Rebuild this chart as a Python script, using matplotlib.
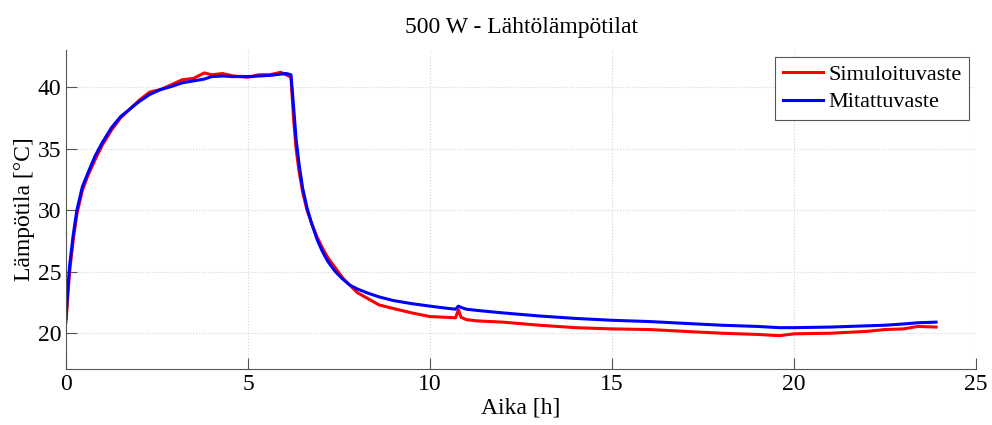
import matplotlib
matplotlib.use("Agg")
from matplotlib import pyplot as plt

# aika [h]
aika = [0.0, 0.05, 0.1, 0.2, 0.3, 0.45, 0.6, 0.8, 1.0, 1.25, 1.5, 1.75, 2.0, 2.3,
        2.6, 2.9, 3.2, 3.5, 3.8, 4.0, 4.3, 4.6, 5.0, 5.3, 5.6, 5.9, 6.05, 6.18,
        6.25, 6.32, 6.4, 6.5, 6.62, 6.75, 6.9, 7.05, 7.2, 7.4, 7.6, 7.8, 8.0,
        8.3, 8.6, 9.0, 9.5, 10.0, 10.4, 10.7, 10.78, 10.85, 11.0, 11.3, 12.0,
        13.0, 14.0, 15.0, 16.0, 17.0, 18.0, 19.0, 19.6, 20.0, 21.0, 22.0, 22.5,
        23.0, 23.4, 23.9]

simuloitu = [20.9, 23.0, 25.0, 27.6, 29.7, 31.6, 32.8, 34.1, 35.3, 36.5, 37.5,
             38.2, 38.9, 39.6, 39.8, 40.2, 40.6, 40.7, 41.15, 41.0, 41.1, 40.9,
             40.8, 41.0, 41.0, 41.2, 41.0, 40.8, 37.5, 35.0, 33.2, 31.5, 30.0,
             28.9, 27.8, 26.9, 26.1, 25.3, 24.5, 23.9, 23.3, 22.8, 22.3, 22.0,
             21.65, 21.35, 21.3, 21.25, 21.9, 21.3, 21.1, 21.0, 20.9, 20.65,
             20.45, 20.35, 20.3, 20.15, 20.0, 19.9, 19.8, 19.95, 20.0, 20.15,
             20.3, 20.35, 20.55, 20.5]

mitattu = [21.2, 23.5, 25.5, 28.0, 30.0, 31.9, 33.0, 34.4, 35.5, 36.7, 37.6,
           38.2, 38.8, 39.4, 39.8, 40.05, 40.35, 40.5, 40.65, 40.85, 40.9,
           40.85, 40.85, 40.9, 40.95, 41.05, 41.1, 41.0, 38.5, 35.8, 33.8,
           31.8, 30.2, 28.9, 27.6, 26.6, 25.8, 25.0, 24.4, 23.9, 23.6, 23.25,
           22.95, 22.65, 22.4, 22.2, 22.05, 21.95, 22.2, 22.1, 21.95, 21.85,
           21.65, 21.4, 21.2, 21.05, 20.95, 20.8, 20.65, 20.55, 20.45, 20.45,
           20.5, 20.6, 20.65, 20.75, 20.85, 20.9]

plt.rcParams['font.family'] = ['Liberation Serif', 'DejaVu Serif']

fig = plt.figure(figsize=(9.92, 4.25), dpi=100)
ax = fig.add_axes([0.0665, 0.132, 0.9175, 0.75])

ax.plot(aika, simuloitu, color='red', linewidth=2.2, label='Simuloituvaste')
ax.plot(aika, mitattu, color='blue', linewidth=2.2, label='Mitattuvaste')

ax.set_xlim(0, 25)
ax.set_ylim(17.1, 43)
ax.set_xticks(range(0, 26, 5))
ax.set_yticks(range(20, 41, 5))

ax.grid(True, linestyle=':', color='#d4d4d4', linewidth=0.8)
for s in ['top', 'right']:
    ax.spines[s].set_visible(False)
for s in ['left', 'bottom']:
    ax.spines[s].set_color('#555555')
ax.tick_params(direction='in', length=8, color='#555555', labelsize=17,
               top=False, right=False)

ax.set_xlabel('Aika [h]', fontsize=17, labelpad=2)
ax.set_ylabel('Lämpötila [°C]', fontsize=17, labelpad=2)
ax.set_title('500 W - Lähtölämpötilat', fontsize=17, pad=12)

leg = ax.legend(loc='upper right', fontsize=16, fancybox=False, framealpha=1,
                edgecolor='#555555', handlelength=1.8, borderpad=0.35,
                labelspacing=0.3, handletextpad=0.25, borderaxespad=0.3)
leg.get_frame().set_linewidth(0.8)

fig.savefig('out.png', dpi=100)
